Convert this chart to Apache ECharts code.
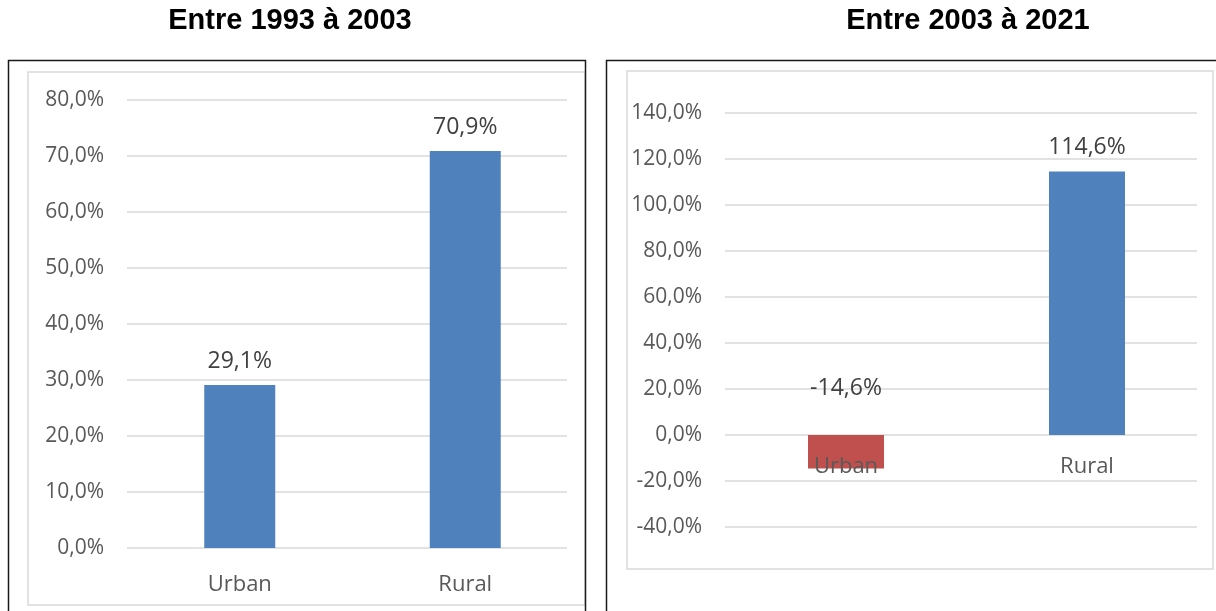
<!DOCTYPE html>
<html>
<head>
<meta charset="utf-8">
<script src="https://cdn.jsdelivr.net/npm/echarts@6/dist/echarts.min.js"></script>
<style>
  html, body { margin: 0; padding: 0; background: #fff; }
  #chart { width: 1216px; height: 611px; }
</style>
</head>
<body>
<div id="chart"></div>
<script>
// Population growth by area type, two periods
const categories = ['Urban', 'Rural'];
const growth1993to2003 = [29.1, 70.9];
const growth2003to2021 = [-14.6, 114.6];
const panelTitles = ['Entre 1993 à 2003', 'Entre 2003 à 2021'];

const BLUE = '#4F81BD';
const RED = '#C0504D';
const GRID_GRAY = '#D9D9D9';
const FONT = '"Open Sans", "Noto Sans", sans-serif';

const pct = v => v.toFixed(1).replace('.', ',') + '%';

const chart = echarts.init(document.getElementById('chart'), null, { renderer: 'canvas' });

function gridAxis(gridIndex, min, max, interval) {
  return {
    type: 'value', gridIndex, min, max, interval,
    axisLine: { show: false }, axisTick: { show: false },
    axisLabel: { color: '#595959', fontSize: 21, fontFamily: FONT, margin: 23, formatter: pct },
    splitLine: { lineStyle: { color: GRID_GRAY, width: 1.5 } }
  };
}
function hiddenValueAxis(gridIndex, min, max, interval) {
  return {
    type: 'value', gridIndex, min, max, interval,
    axisLine: { show: false }, axisTick: { show: false },
    axisLabel: { show: false }, splitLine: { show: false }
  };
}
function hiddenCatAxis(gridIndex) {
  return { type: 'category', gridIndex, data: categories, show: false };
}
function catAxis(gridIndex, margin) {
  return {
    type: 'category', gridIndex, data: categories, z: 5,
    axisLine: { show: false }, axisTick: { show: false },
    axisLabel: { color: '#595959', fontSize: 22, fontFamily: FONT, margin }
  };
}
function barData(values) {
  return values.map(v => ({
    value: v,
    itemStyle: { color: v < 0 ? RED : BLUE },
    label: v < 0 ? { distance: 35 } : undefined
  }));
}
const valueLabel = {
  show: true, position: 'top', distance: 12,
  color: '#404040', fontSize: 23, fontFamily: FONT,
  formatter: p => pct(p.value)
};
const titleStyle = {
  fontFamily: '"Liberation Sans", Arial, sans-serif',
  fontWeight: 'bold', fontSize: 29, color: '#000'
};

const option = {
  backgroundColor: '#ffffff',
  animation: false,
  title: [
    { text: panelTitles[0], left: 285, top: 1, textAlign: 'center', textStyle: titleStyle },
    { text: panelTitles[1], left: 963, top: 1, textAlign: 'center', textStyle: titleStyle }
  ],
  grid: [
    { left: 127, top: 100, width: 440, height: 448 },   // left panel gridlines
    { left: 127, top: 100, width: 451, height: 448 },   // left panel bars + labels
    { left: 725, top: 113, width: 472, height: 414 },   // right panel gridlines
    { left: 725.5, top: 113, width: 482, height: 414 }, // right panel bars
    { left: 725.5, top: 113, width: 482, height: 322 }  // right panel category labels, bottom on the 0 % line
  ],
  xAxis: [hiddenCatAxis(0), catAxis(1, 26), hiddenCatAxis(2), hiddenCatAxis(3), catAxis(4, 21)],
  yAxis: [
    gridAxis(0, 0, 80, 10),
    hiddenValueAxis(1, 0, 80, 10),
    gridAxis(2, -40, 140, 20),
    hiddenValueAxis(3, -40, 140, 20),
    hiddenValueAxis(4, 0, 140, 20)
  ],
  series: [
    { type: 'bar', xAxisIndex: 1, yAxisIndex: 1, barWidth: 71, data: barData(growth1993to2003), label: valueLabel },
    { type: 'bar', xAxisIndex: 3, yAxisIndex: 3, barWidth: 76, data: barData(growth2003to2021), label: valueLabel }
  ],
  graphic: [
    // panel frames
    { type: 'rect', shape: { x: 28, y: 72, width: 557, height: 533 }, style: { fill: null, stroke: GRID_GRAY, lineWidth: 1.5 }, z: 9 },
    { type: 'rect', shape: { x: 627, y: 71, width: 586, height: 498 }, style: { fill: null, stroke: GRID_GRAY, lineWidth: 1.5 }, z: 9 },
    { type: 'rect', shape: { x: 8.5, y: 60.5, width: 577, height: 600 }, style: { fill: null, stroke: '#1a1a1a', lineWidth: 1.5 }, z: 10 },
    { type: 'rect', shape: { x: 606.5, y: 60.5, width: 640, height: 600 }, style: { fill: null, stroke: '#1a1a1a', lineWidth: 1.5 }, z: 10 }
  ]
};
chart.setOption(option);
</script>
</body>
</html>
